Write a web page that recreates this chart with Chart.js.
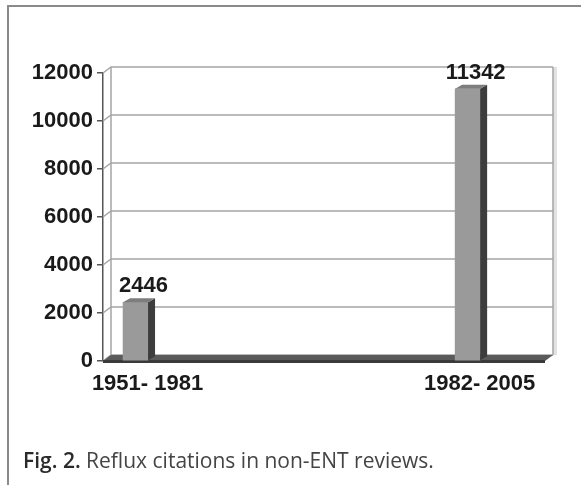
<!DOCTYPE html>
<html>
<head>
<meta charset="utf-8">
<script src="https://cdn.jsdelivr.net/npm/chart.js@4.4.0/dist/chart.umd.min.js"></script>
<style>
  body { margin: 0; background: #fff; }
  #cadre { position: absolute; left: 7px; top: 5px; width: 600px; height: 500px;
           border-top: 2px solid #8a8a8a; border-left: 2px solid #8a8a8a; }
  #graph1 { position: absolute; left: 0; top: 0; }
  #legende { position: absolute; left: 23px; top: 446px; font-family: "Open Sans", sans-serif;
             font-size: 21px; line-height: 28px; color: #444; white-space: nowrap; }
  #legende b { color: #2a2a2a; font-weight: 600; }
</style>
</head>
<body>
<div id="cadre"></div>
<canvas id="graph1" width="581" height="485"></canvas>
<div id="legende"><b>Fig. 2.</b> Reflux citations in non-ENT reviews.</div>
<script>
const periodes = ['1951- 1981', '1982- 2005'];
const citations = [2446, 11342];
const ticksY = [0, 2000, 4000, 6000, 8000, 10000, 12000];

const police = { family: '"Liberation Sans", Arial, sans-serif', size: 22, weight: 'bold' };

// petit effet 3D facon Excel
const relief = {
    id: 'relief',
    beforeDatasetsDraw(chart) {
        const ctx = chart.ctx;
        const a = chart.chartArea;
        const y = chart.scales.y;
        const dx = 8, dy = 6;
        const yHaut = y.getPixelForValue(12000);
        const y0 = y.getPixelForValue(0);
        ctx.save();
        // bord droit du mur
        ctx.fillStyle = '#e2e2e2';
        ctx.fillRect(a.right + dx, yHaut - dy, 4, y0 - yHaut);
        ctx.strokeStyle = '#a5a5a5';
        ctx.lineWidth = 1.5;
        for (let i = 0; i < ticksY.length; i++) {
            const yy = y.getPixelForValue(ticksY[i]);
            ctx.beginPath();
            ctx.moveTo(a.left, yy);
            ctx.lineTo(a.left + dx, yy - dy);
            ctx.lineTo(a.right + dx, yy - dy);
            ctx.stroke();
        }
        ctx.beginPath();
        ctx.moveTo(a.left + dx, yHaut - dy);
        ctx.lineTo(a.left + dx, y0 - dy);
        ctx.moveTo(a.right + dx, yHaut - dy);
        ctx.lineTo(a.right + dx, y0 - dy);
        ctx.stroke();
        // sol
        ctx.fillStyle = '#5a5a5a';
        ctx.beginPath();
        ctx.moveTo(a.left, y0);
        ctx.lineTo(a.left + dx, y0 - dy);
        ctx.lineTo(a.right + dx, y0 - dy);
        ctx.lineTo(a.right, y0);
        ctx.closePath();
        ctx.fill();
        ctx.fillStyle = '#3a3a3a';
        ctx.fillRect(a.left, y0 - 1, a.right - a.left, 3);
        ctx.restore();
    },
    afterDatasetsDraw(chart) {
        const ctx = chart.ctx;
        const barres = chart.getDatasetMeta(0).data;
        const dx = 7, dy = 4;
        ctx.save();
        for (let b = 0; b < barres.length; b++) {
            const p = barres[b];
            const g = p.x - p.width / 2;
            const d = p.x + p.width / 2;
            ctx.fillStyle = '#3d3d3d';
            ctx.beginPath();
            ctx.moveTo(d, p.y);
            ctx.lineTo(d + dx, p.y - dy);
            ctx.lineTo(d + dx, p.base - dy);
            ctx.lineTo(d, p.base);
            ctx.closePath();
            ctx.fill();
            ctx.fillStyle = '#7d7d7d';
            ctx.beginPath();
            ctx.moveTo(g, p.y);
            ctx.lineTo(g + dx, p.y - dy);
            ctx.lineTo(d + dx, p.y - dy);
            ctx.lineTo(d, p.y);
            ctx.closePath();
            ctx.fill();
            ctx.fillStyle = '#1a1a1a';
            ctx.font = 'bold 22px "Liberation Sans", Arial, sans-serif';
            ctx.textAlign = 'center';
            ctx.textBaseline = 'bottom';
            ctx.fillText(String(citations[b]), p.x + 8, p.y - 5);
        }
        ctx.restore();
    }
};

function mkGraph() {
    const ctx = document.getElementById('graph1');
    const data = {
        datasets: [{
            data: citations.map((v, i) => ({ x: i, y: v })),
            backgroundColor: '#9a9a9a',
            borderWidth: 0,
            barThickness: 25
        }]
    };
    const options = {
        responsive: false,
        animation: false,
        layout: { padding: { top: 73, right: 36, bottom: 88, left: 0 } },
        plugins: { legend: { display: false }, tooltip: { enabled: false } },
        scales: {
            x: {
                type: 'linear',
                offset: false,
                min: -0.098,
                max: 1.233,
                afterBuildTicks: s => { s.ticks = [{ value: 0 }, { value: 1 }]; },
                afterFit: s => { s.height = 36; },
                grid: { display: false, drawTicks: false, offset: false },
                border: { display: false },
                ticks: { callback: v => periodes[v], padding: 10, labelOffset: 12,
                         font: police, color: '#1a1a1a', maxRotation: 0 }
            },
            y: {
                min: 0,
                max: 12000,
                afterBuildTicks: s => { s.ticks = ticksY.map(v => ({ value: v })); },
                afterFit: s => { s.width = 103; },
                grid: { drawOnChartArea: false, tickLength: 6, color: '#555', lineWidth: 1.5 },
                border: { color: '#555', width: 1.5 },
                ticks: { callback: v => String(v), padding: 4, font: police, color: '#1a1a1a' }
            }
        }
    };
    new Chart(ctx, { type: 'bar', data: data, options: options, plugins: [relief] });
}

mkGraph();
</script>
</body>
</html>
